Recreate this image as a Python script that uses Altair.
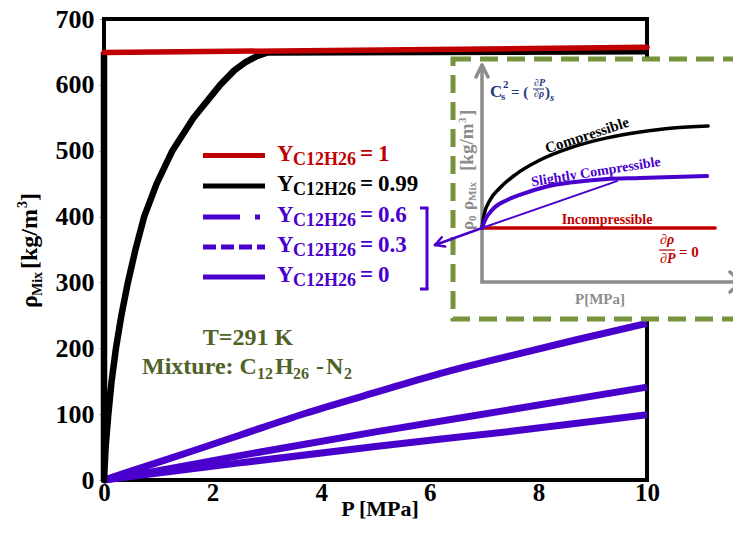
import altair as alt
import pandas as pd

# ---------------- data ----------------
P_y1 = [0, 10]
rho_y1 = [649, 657]

P_y099 = [0, 0, 0.03, 0.08, 0.14, 0.22, 0.32, 0.44, 0.58, 0.74, 0.97, 1.26, 1.65, 2.14, 2.4, 2.6, 2.8, 3.0, 10]
rho_y099 = [650, 0, 50, 100, 150, 200, 250, 300, 350, 400, 450, 500, 550, 600, 622, 634, 643, 649, 651]

P_y06 = [0, 0.85, 1.7, 2.5, 3.7, 5.0, 6.2, 7.5, 8.7, 10]
rho_y06 = [0, 23, 46, 68, 101, 133, 162, 189, 213, 238]
P_y03 = [0, 0.85, 2.5, 5.0, 7.5, 10]
rho_y03 = [0, 12, 37, 73, 107, 141]
P_y0 = [0, 0.85, 2.5, 5.0, 7.5, 10]
rho_y0 = [0, 9, 26, 51, 74, 99]

x_ticks = [0, 2, 4, 6, 8, 10]
y_ticks = [0, 100, 200, 300, 400, 500, 600, 700]

legend_values = ["1", "0.99", "0.6", "0.3", "0"]

# inset schematic curves (normalised inset units)
inset_u_comp = [0, 0.008, 0.031, 0.069, 0.127, 0.224, 0.340, 0.483, 0.610, 0.737, 0.873]
inset_v_comp = [0.249, 0.309, 0.378, 0.433, 0.493, 0.562, 0.618, 0.664, 0.691, 0.710, 0.719]
inset_u_slight = [0, 0.012, 0.039, 0.097, 0.166, 0.243, 0.359, 0.483, 0.610, 0.737, 0.869]
inset_v_slight = [0.249, 0.286, 0.332, 0.378, 0.410, 0.438, 0.461, 0.475, 0.479, 0.484, 0.488]
inset_u_chord = [0, 0.521]
inset_v_chord = [0.249, 0.465]
inset_u_incomp = [0, 0.900]
inset_v_incomp = [0.249, 0.249]

# ---------------- styling ----------------
SERIF = "Liberation Serif"
RED = "#C00000"
PURPLE = "#4A00CC"
OLIVE_TXT = "#4F6228"
OLIVE_BOX = "#77933C"
GRAY = "#8C8C8C"
NAVY = "#22387A"
W, H = 543, 461

rows = []
for name, Ps, rs in [("y1", P_y1, rho_y1), ("y099", P_y099, rho_y099),
                     ("y06", P_y06, rho_y06), ("y03", P_y03, rho_y03),
                     ("y0", P_y0, rho_y0)]:
    for i, (p, r) in enumerate(zip(Ps, rs)):
        rows.append({"series": name, "P": p, "rho": r, "i": i})
df = pd.DataFrame(rows)

irows = []
for name, us, vs in [("comp", inset_u_comp, inset_v_comp),
                     ("slight", inset_u_slight, inset_v_slight),
                     ("chord", inset_u_chord, inset_v_chord),
                     ("incomp", inset_u_incomp, inset_v_incomp)]:
    for i, (u, v) in enumerate(zip(us, vs)):
        irows.append({"curve": name, "u": u, "v": v, "i": i})
idf = pd.DataFrame(irows)

one = pd.DataFrame({"k": [0]})

xscale = alt.Scale(domain=[0, 10], nice=False)
yscale = alt.Scale(domain=[0, 700], nice=False)
xaxis = alt.Axis(values=x_ticks, labelFont=SERIF, labelFontSize=25, labelFontWeight="bold",
                 labelColor="black", ticks=False, domain=False, grid=False, title=None,
                 labelPadding=0, labelFlush=False)
yaxis = alt.Axis(values=y_ticks, labelFont=SERIF, labelFontSize=26, labelFontWeight="bold",
                 labelColor="black", tickSize=5, tickColor="#9a9a9a", tickWidth=1,
                 domain=False, grid=False, title=None, labelPadding=5)


def series_layer(name, color, width, cap):
    return alt.Chart(df).transform_filter(alt.datum.series == name).mark_line(
        color=color, strokeWidth=width, strokeCap=cap, strokeJoin="round",
        interpolate="monotone").encode(
        x=alt.X("P:Q", scale=xscale, axis=xaxis),
        y=alt.Y("rho:Q", scale=yscale, axis=yaxis),
        order="i:Q")


def inset_curve(name, color, width):
    return alt.Chart(idf).transform_filter(alt.datum.curve == name).transform_calculate(
        px="378 + 259 * datum.u", py="263 - 217 * datum.v").mark_line(
        color=color, strokeWidth=width, strokeCap="round", strokeJoin="round",
        interpolate="monotone").encode(
        x=alt.X("px:Q", scale=None, axis=None),
        y=alt.Y("py:Q", scale=None, axis=None),
        order="i:Q")


def txt(text, x, y, size, color, angle=0, align="left", baseline="alphabetic",
        style="normal", weight="bold"):
    return alt.Chart(one).mark_text(text=text, font=SERIF, fontSize=size, fontWeight=weight,
                                    fontStyle=style, color=color, angle=angle, align=align,
                                    baseline=baseline).encode(x=alt.value(x), y=alt.value(y))


def seg(x1, y1, x2, y2, color, width, dash=None, cap="butt"):
    kw = dict(color=color, strokeWidth=width, strokeCap=cap)
    if dash:
        kw["strokeDash"] = dash
    return alt.Chart(one).mark_rule(**kw).encode(
        x=alt.value(x1), y=alt.value(y1), x2=alt.value(x2), y2=alt.value(y2))


layers = []
# frame
layers.append(alt.Chart(one).mark_rect(fill="white", fillOpacity=0, stroke="black", strokeWidth=4).encode(
    x=alt.value(0), x2=alt.value(W), y=alt.value(0), y2=alt.value(H)))
# data
layers.append(series_layer("y0", PURPLE, 7, "butt"))
layers.append(series_layer("y03", PURPLE, 7, "butt"))
layers.append(series_layer("y06", PURPLE, 7, "butt"))
layers.append(alt.Chart(df).transform_filter(alt.datum.series == "y099").mark_line(
    color="black", strokeWidth=6.5, strokeCap="butt", strokeJoin="round").encode(
    x=alt.X("P:Q", scale=xscale, axis=xaxis),
    y=alt.Y("rho:Q", scale=yscale, axis=yaxis),
    order="i:Q"))
layers.append(series_layer("y1", RED, 5.5, "round"))

# inset box
layers.append(alt.Chart(one).mark_rect(fill="white", stroke=OLIVE_BOX, strokeWidth=5,
                                       strokeDash=[18, 9]).encode(
    x=alt.value(349), x2=alt.value(700), y=alt.value(40), y2=alt.value(300)))
# inset axes
layers += [
    seg(378, 264.5, 378, 47, GRAY, 3.5),
    seg(372, 58, 378, 46, GRAY, 3.5, cap="round"),
    seg(384, 58, 378, 46, GRAY, 3.5, cap="round"),
    seg(376.5, 263, 637, 263, GRAY, 3.5),
    seg(626, 253, 637.5, 263, GRAY, 3.5, cap="round"),
    seg(626, 273, 637.5, 263, GRAY, 3.5, cap="round"),
]
layers.append(inset_curve("incomp", RED, 3.5))
layers.append(inset_curve("comp", "black", 3.5))
layers.append(inset_curve("slight", PURPLE, 4))
layers.append(inset_curve("chord", PURPLE, 2))
# arrow to bracket
layers += [
    seg(378, 209, 331, 226, PURPLE, 2.5, cap="round"),
    seg(341.2, 227.6, 331, 226, PURPLE, 2.5, cap="round"),
    seg(337.8, 218.2, 331, 226, PURPLE, 2.5, cap="round"),
    seg(323, 189, 323, 270, PURPLE, 3),
    seg(316, 189, 324.5, 189, PURPLE, 3),
    seg(316, 270, 324.5, 270, PURPLE, 3),
]
# inset texts
layers += [
    txt("C", 386, 78, 17, NAVY),
    txt("s", 397, 81, 11, NAVY),
    txt("2", 399, 69, 11, NAVY),
    txt("= (", 407, 78, 15, NAVY),
    txt("\u2202P", 430, 67, 10, NAVY, style="italic"),
    seg(429, 70, 440, 70, NAVY, 1),
    txt("\u2202\u03c1", 430, 78, 10, NAVY, style="italic"),
    txt(")", 441, 78, 15, NAVY),
    txt("s", 446, 82, 11, NAVY, style="italic"),
    txt("\u03c1", 369, 191, 17, GRAY, angle=270),
    txt("Mix", 372, 182, 11, GRAY, angle=270),
    txt("[kg/m", 369, 152, 19, GRAY, angle=270),
    txt("3", 362, 104, 11, GRAY, angle=270),
    txt("]", 369, 97, 19, GRAY, angle=270),
    txt("\u03c1", 369, 211, 17, GRAY, angle=270),
    txt("0", 372, 202, 11, GRAY, angle=270),
    txt("P[MPa]", 496, 285, 15, GRAY, align="center"),
    txt("Compressible", 483, 116, 15, "black", angle=342, align="center", baseline="middle"),
    txt("Slightly Compressible", 492, 153, 14, PURPLE, angle=351, align="center", baseline="middle"),
    txt("Incompressible", 503, 201, 14, RED, align="center", baseline="middle"),
    txt("\u2202\u03c1", 556, 225, 14, RED, style="italic"),
    seg(555, 231, 571, 231, RED, 1.2),
    txt("\u2202P", 556, 244, 14, RED, style="italic"),
    txt("= 0", 575, 238, 15, RED),
]

# legend
leg_y = [136.5, 167, 198, 228, 258]
leg_col = [RED, "black", PURPLE, PURPLE, PURPLE]
leg_dash = [None, None, [37, 15, 5, 100], [13, 5], None]
for ly, lc, ld, lv in zip(leg_y, leg_col, leg_dash, legend_values):
    layers.append(seg(99, ly, 161, ly, lc, 5, dash=ld))
    layers.append(txt("Y", 173, ly + 5, 23, lc))
    layers.append(txt("C12H26", 189, ly + 9, 18, lc))
    layers.append(txt("=", 256, ly + 5, 23, lc))
    layers.append(txt(lv, 274, ly + 5, 23, lc))

# conditions annotation
layers += [
    txt("T=291 K", 144, 326, 24, OLIVE_TXT, align="center"),
    txt("Mixture: C", 38, 355, 24, OLIVE_TXT),
    txt("12", 153, 360, 16, OLIVE_TXT),
    txt("H", 171, 355, 24, OLIVE_TXT),
    txt("26", 189, 360, 16, OLIVE_TXT),
    txt("-", 212, 355, 24, OLIVE_TXT),
    txt("N", 222, 355, 24, OLIVE_TXT),
    txt("2", 240, 360, 16, OLIVE_TXT),
]

# axis titles
layers += [
    txt("P [MPa]", 276, 497, 22, "black", align="center"),
    txt("\u03c1", -67, 289, 24, "black", angle=270),
    txt("Mix", -62, 277, 14, "black", angle=270),
    txt("[kg/m", -67, 250, 24, "black", angle=270),
    txt("3", -77, 189, 14, "black", angle=270),
    txt("]", -67, 182, 24, "black", angle=270),
]

chart = alt.layer(*layers).properties(
    width=W, height=H,
    autosize=alt.AutoSizeParams(type="none"),
    padding={"left": 96, "top": 11, "right": 86, "bottom": 43},
    background="white",
).configure_view(strokeWidth=0)

chart.save("out.html", embed_options={"renderer": "svg", "actions": False})
